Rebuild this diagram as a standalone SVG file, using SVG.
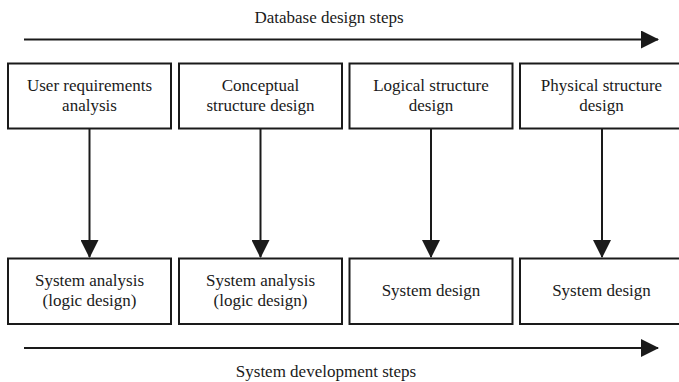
<svg xmlns="http://www.w3.org/2000/svg" width="679" height="382" viewBox="0 0 679 382">
<style>
text{font-family:"Liberation Serif","Times New Roman",serif;font-size:17px;fill:#1a1a1a;text-anchor:middle}
.box{fill:#fff;stroke:#1a1a1a;stroke-width:2}
.ln{stroke:#1a1a1a;stroke-width:2;fill:none}
</style>
<defs>
<marker id="ah" markerUnits="userSpaceOnUse" markerWidth="18" markerHeight="18" refX="17" refY="9" orient="auto" viewBox="0 0 18 18">
<path d="M0,0 L18,9 L0,18 Z" fill="#1a1a1a"/>
</marker>
</defs>
<text x="329" y="23">Database design steps</text>
<g id="top-row">
<g id="n1"><rect class="box" x="8" y="63.5" width="163" height="65"/><text x="89.5" y="91">User requirements</text><text x="89.5" y="111">analysis</text></g>
<g id="n2"><rect class="box" x="179" y="63.5" width="163" height="65"/><text x="260.5" y="91">Conceptual</text><text x="260.5" y="111">structure design</text></g>
<g id="n3"><rect class="box" x="349.5" y="63.5" width="163" height="65"/><text x="431" y="91">Logical structure</text><text x="431" y="111">design</text></g>
<g id="n4"><rect class="box" x="520" y="63.5" width="164" height="65"/><text x="601.5" y="91">Physical structure</text><text x="601.5" y="111">design</text></g>
</g>
<g id="bottom-row">
<g id="m1"><rect class="box" x="8" y="258.5" width="163" height="65.5"/><text x="89.5" y="285.5">System analysis</text><text x="89.5" y="305.5">(logic design)</text></g>
<g id="m2"><rect class="box" x="179" y="258.5" width="163" height="65.5"/><text x="260.5" y="285.5">System analysis</text><text x="260.5" y="305.5">(logic design)</text></g>
<g id="m3"><rect class="box" x="349.5" y="258.5" width="163" height="65.5"/><text x="431" y="295.5">System design</text></g>
<g id="m4"><rect class="box" x="520" y="258.5" width="164" height="65.5"/><text x="601.5" y="295.5">System design</text></g>
</g>
<g id="connectors">
<line class="ln" x1="24" y1="39.5" x2="658" y2="39.5" marker-end="url(#ah)"/>
<line class="ln" x1="24" y1="348" x2="658" y2="348" marker-end="url(#ah)"/>
<line class="ln" x1="89.5" y1="128.5" x2="89.5" y2="257" marker-end="url(#ah)"/>
<line class="ln" x1="260.5" y1="128.5" x2="260.5" y2="257" marker-end="url(#ah)"/>
<line class="ln" x1="431" y1="128.5" x2="431" y2="257" marker-end="url(#ah)"/>
<line class="ln" x1="602" y1="128.5" x2="602" y2="257" marker-end="url(#ah)"/>
</g>
<text x="326" y="376.5">System development steps</text>
</svg>
